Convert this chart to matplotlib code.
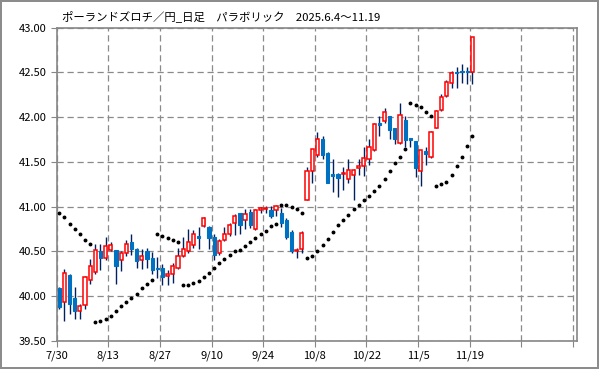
import matplotlib.pyplot as plt
import numpy as np

plt.rcParams['font.family'] = ['Noto Sans CJK JP', 'DejaVu Sans']

# daily PLN/JPY candles, 7/30 - 11/19
opens = [40.09, 39.94, 40.24, 39.98, 39.84, 39.90, 40.18, 40.27, 40.51, 40.43,
         40.52, 40.52, 40.40, 40.48, 40.61, 40.53, 40.41, 40.50, 40.43, 40.32,
         40.32, 40.23, 40.25, 40.31, 40.45, 40.50, 40.57, 40.67, 40.78, 40.77,
         40.66, 40.48, 40.63, 40.69, 40.82, 40.93, 40.85, 40.94, 40.75, 40.96,
         40.97, 40.96, 40.96, 40.93, 40.85, 40.72, 40.50, 40.53, 41.08, 41.40,
         41.58, 41.76, 41.60, 41.36, 41.37, 41.36, 41.31, 41.35, 41.43, 41.45,
         41.53, 41.63, 41.93, 41.96, 42.01, 41.88, 41.71, 41.97, 41.77, 41.73,
         41.40, 41.62, 41.55, 41.88, 42.08, 42.24, 42.38, 42.51, 42.52, 42.52,
         42.51]
highs = [40.10, 40.30, 40.25, 40.10, 39.91, 40.23, 40.42, 40.58, 40.58, 40.66,
         40.61, 40.52, 40.50, 40.63, 40.69, 40.54, 40.53, 40.54, 40.49, 40.44,
         40.36, 40.29, 40.37, 40.54, 40.66, 40.75, 40.74, 40.77, 40.89, 40.78,
         40.69, 40.64, 40.77, 40.82, 40.92, 40.93, 40.97, 40.97, 40.97, 41.00,
         41.01, 41.01, 41.02, 40.98, 40.87, 40.74, 40.54, 40.73, 41.44, 41.65,
         41.84, 41.79, 41.61, 41.53, 41.38, 41.44, 41.53, 41.42, 41.53, 41.67,
         41.76, 41.93, 42.01, 42.10, 42.01, 41.88, 42.16, 42.01, 41.77, 41.73,
         41.63, 41.67, 41.85, 42.08, 42.26, 42.42, 42.52, 42.56, 42.59, 42.56,
         42.90]
lows = [39.86, 39.72, 39.80, 39.74, 39.74, 39.86, 40.14, 40.25, 40.29, 40.41,
        40.50, 40.14, 40.28, 40.45, 40.46, 40.32, 40.30, 40.31, 40.25, 40.20,
        40.12, 40.12, 40.15, 40.30, 40.44, 40.48, 40.54, 40.53, 40.77, 40.53,
        40.40, 40.46, 40.62, 40.67, 40.68, 40.70, 40.75, 40.76, 40.74, 40.93,
        40.93, 40.87, 40.90, 40.77, 40.64, 40.48, 40.43, 40.48, 41.07, 41.27,
        41.55, 41.53, 41.27, 41.16, 41.11, 41.19, 41.26, 41.08, 41.35, 41.34,
        41.47, 41.62, 41.79, 41.94, 41.76, 41.70, 41.70, 41.67, 41.67, 41.33,
        41.23, 41.47, 41.54, 41.88, 42.07, 42.23, 42.33, 42.33, 42.38, 42.37,
        42.37]
closes = [39.88, 40.26, 39.91, 39.83, 39.89, 40.22, 40.34, 40.52, 40.43, 40.56,
          40.57, 40.34, 40.48, 40.58, 40.53, 40.39, 40.45, 40.42, 40.29, 40.30,
          40.22, 40.25, 40.34, 40.45, 40.53, 40.61, 40.69, 40.65, 40.87, 40.65,
          40.46, 40.62, 40.70, 40.80, 40.90, 40.79, 40.92, 40.79, 40.96, 40.98,
          40.98, 40.90, 41.01, 40.82, 40.66, 40.50, 40.52, 40.71, 41.40, 41.64,
          41.76, 41.58, 41.27, 41.34, 41.32, 41.38, 41.41, 41.41, 41.45, 41.54,
          41.67, 41.92, 41.91, 42.06, 41.86, 41.76, 42.02, 41.75, 41.75, 41.43,
          41.63, 41.59, 41.84, 42.07, 42.23, 42.39, 42.49, 42.49, 42.50, 42.50,
          42.90]

# parabolic SAR
sar = [40.93, 40.88, 40.81, 40.75, 40.69, 40.63, 40.58, 39.71, 39.72, 39.74,
       39.78, 39.84, 39.89, 39.94, 39.98, 40.03, 40.09, 40.14, 40.18, 40.69,
       40.67, 40.65, 40.63, 40.61, 40.12, 40.13, 40.15, 40.17, 40.22, 40.26,
       40.32, 40.37, 40.42, 40.46, 40.50, 40.52, 40.56, 40.61, 40.65, 40.70,
       40.73, 40.78, 40.81, 41.02, 41.02, 41.00, 40.97, 40.93, 40.43, 40.45,
       40.50, 40.57, 40.64, 40.72, 40.79, 40.85, 40.91, 40.97, 41.02, 41.07,
       41.12, 41.17, 41.23, 41.31, 41.40, 41.49, 41.56, 41.64, 42.16, 42.14,
       42.11, 42.06, 42.01, 41.23, 41.25, 41.28, 41.35, 41.45, 41.55, 41.68,
       41.79]

date_labels = ['7/30', '8/13', '8/27', '9/10', '9/24', '10/8', '10/22', '11/5', '11/19']

o = np.array(opens)
h = np.array(highs)
l = np.array(lows)
c = np.array(closes)
x = np.arange(len(o))
up = c >= o

fig = plt.figure(figsize=(5.99, 3.69), dpi=100, edgecolor='#8c8c8c', linewidth=1.5)
ax = fig.add_axes([0.0945, 0.076, 0.869, 0.849])

# wicks
ax.vlines(x, l, h, color='#002060', linewidth=1.0, zorder=2)

# bodies
body = np.maximum(np.abs(c - o), 0.012)
bottom = np.minimum(o, c)
ax.bar(x[up], body[up], bottom=bottom[up], width=0.62, facecolor='white',
       edgecolor='red', linewidth=1.1, zorder=3)
ax.bar(x[~up], body[~up], bottom=bottom[~up], width=0.62, facecolor='#0070C0',
       edgecolor='#0070C0', linewidth=0.8, zorder=3)

# SAR dots
ax.plot(x, sar, linestyle='none', marker='o', markersize=1.8, color='black', zorder=4)

ax.set_xlim(-0.5, 100.3)
ax.set_ylim(39.5, 43.0)

ax.set_xticks(np.arange(-0.5, 100, 10))
ax.set_xticklabels(date_labels + ['', ''])
ax.set_yticks(np.arange(39.5, 43.01, 0.5))
ax.set_yticklabels([f'{v:.2f}' for v in np.arange(39.5, 43.01, 0.5)])
ax.tick_params(axis='both', direction='out', length=4, color='#868686', labelsize=8, pad=3)

ax.grid(True, linestyle=(0, (5, 3)), color='#8a8a8a', linewidth=0.9, zorder=0)
ax.set_axisbelow(True)
for s in ax.spines.values():
    s.set_color('#868686')
    s.set_linewidth(1.2)

fig.text(0.103, 0.955, 'ポーランドズロチ／円_日足　パラボリック　2025.6.4～11.19',
         fontsize=8.2, va='center', ha='left')

fig.savefig('out.png', dpi=100, edgecolor=fig.get_edgecolor())
